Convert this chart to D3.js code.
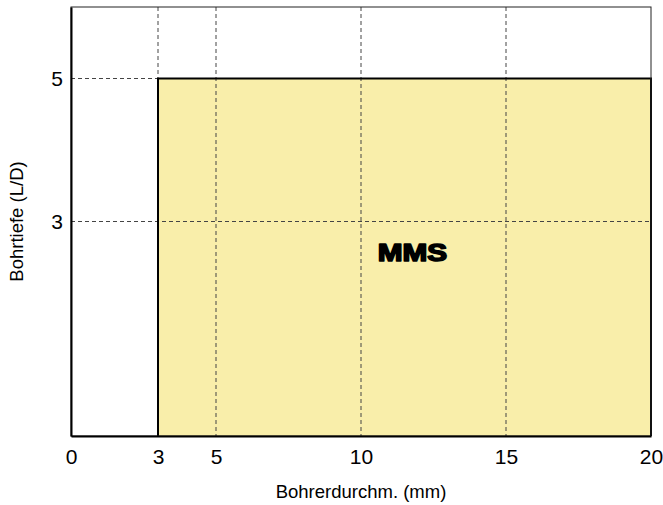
<!DOCTYPE html>
<html>
<head>
<meta charset="utf-8">
<script src="https://cdn.jsdelivr.net/npm/d3@7"></script>
<style>
  body { margin: 0; background: #fff; }
  text { font-family: "Liberation Sans", Arial, sans-serif; }
</style>
</head>
<body>
<div id="chart"></div>
<script>
// data
var xTicks = [0, 3, 5, 10, 15, 20];
var yTicks = [3, 5];
var xDomain = [0, 20];
var yDomain = [0, 6];
var regionNames = ["MMS"];
var regionX = [[3, 20]];
var regionY = [[0, 5]];
var labelPos = [[11.77, 2.45]];

var margin = {top: 7, right: 12, bottom: 69, left: 71},
    width = 663 - margin.left - margin.right,
    height = 505 - margin.top - margin.bottom;

var svg = d3.select("#chart")
    .append("svg")
    .attr("width", 663)
    .attr("height", 505)
    .append("g")
    .attr("transform", "translate(" + margin.left + "," + margin.top + ")");

var x = d3.scaleLinear().domain(xDomain).range([0, width]);
var y = d3.scaleLinear().domain(yDomain).range([height, 0]);

// filled region
svg.selectAll(".region")
    .data(regionNames)
    .enter()
    .append("rect")
    .attr("class", "region")
    .attr("x", function(d, i) { return x(regionX[i][0]); })
    .attr("y", function(d, i) { return y(regionY[i][1]); })
    .attr("width", function(d, i) { return x(regionX[i][1]) - x(regionX[i][0]); })
    .attr("height", function(d, i) { return y(regionY[i][0]) - y(regionY[i][1]); })
    .style("fill", "#f9eeaa");

// grid lines
svg.append("g")
    .selectAll("line")
    .data(xTicks.filter(function(d) { return d > xDomain[0] && d < xDomain[1]; }))
    .enter()
    .append("line")
    .attr("x1", d => x(d)).attr("x2", d => x(d))
    .attr("y1", 0).attr("y2", height)
    .style("stroke", "#444")
    .style("stroke-width", 1)
    .style("stroke-dasharray", "4,3");

svg.append("g")
    .selectAll("line")
    .data(yTicks)
    .enter()
    .append("line")
    .attr("x1", 0).attr("x2", width)
    .attr("y1", d => y(d)).attr("y2", d => y(d))
    .style("stroke", "#444")
    .style("stroke-width", 1)
    .style("stroke-dasharray", "4,3");

// region outline
svg.selectAll(".region-outline")
    .data(regionNames)
    .enter()
    .append("path")
    .attr("d", function(d, i) {
        return "M" + x(regionX[i][0]) + "," + y(regionY[i][0]) +
               "V" + y(regionY[i][1]) +
               "H" + x(regionX[i][1]) +
               "V" + y(regionY[i][0]);
    })
    .style("fill", "none")
    .style("stroke", "#000")
    .style("stroke-width", 2);

// frame: top and right thin
svg.append("rect")
    .attr("x", 0).attr("y", 0)
    .attr("width", width).attr("height", height)
    .style("fill", "none")
    .style("stroke", "#222")
    .style("stroke-width", 1);

// axes
var xAxis = svg.append("g")
    .attr("transform", "translate(0," + height + ")")
    .call(d3.axisBottom(x).tickValues(xTicks).tickSize(0).tickPadding(13).tickFormat(d3.format("d")));
xAxis.select(".domain").style("stroke", "#000").style("stroke-width", 2);
xAxis.selectAll("text").style("font-size", "21px").style("fill", "#000")
    .style("font-family", "'Liberation Sans', Arial, sans-serif");

var yAxis = svg.append("g")
    .call(d3.axisLeft(y).tickValues(yTicks).tickSize(0).tickPadding(8).tickFormat(d3.format("d")));
yAxis.select(".domain").style("stroke", "#000").style("stroke-width", 2);
yAxis.selectAll("text").style("font-size", "21px").style("fill", "#000")
    .style("font-family", "'Liberation Sans', Arial, sans-serif");

// axis titles
svg.append("text")
    .attr("x", width / 2)
    .attr("y", height + 62)
    .style("text-anchor", "middle")
    .style("font-size", "18.5px")
    .text("Bohrerdurchm. (mm)");

svg.append("text")
    .attr("transform", "rotate(-90)")
    .attr("x", -height / 2)
    .attr("y", -48)
    .style("text-anchor", "middle")
    .style("font-size", "18.5px")
    .text("Bohrtiefe (L/D)");

// region label
svg.selectAll(".region-label")
    .data(regionNames)
    .enter()
    .append("text")
    .attr("transform", function(d, i) {
        return "translate(" + x(labelPos[i][0]) + "," + y(labelPos[i][1]) + ") scale(1.24,1)";
    })
    .style("text-anchor", "middle")
    .style("font-size", "24px")
    .style("font-weight", "900")
    .style("stroke", "#000")
    .style("stroke-width", 1.6)
    .style("stroke-linejoin", "round")
    .text(d => d);
</script>
</body>
</html>
